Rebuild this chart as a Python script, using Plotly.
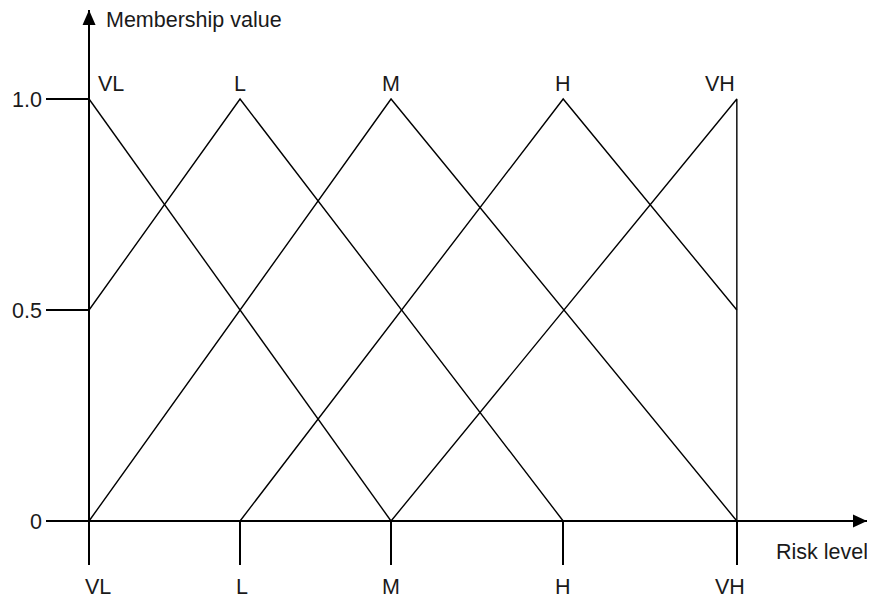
import plotly.graph_objects as go

# risk levels (categories) and where they sit on the risk axis
risk_labels = ["VL", "L", "M", "H", "VH"]
risk_pos = [0, 1, 2, 3.14, 4.29]
pos = dict(zip(risk_labels, risk_pos))

# membership functions: breakpoints (risk level) and membership values
vl_x = ["VL", "M"]
vl_y = [1.0, 0.0]
l_x = ["VL", "L", "H"]
l_y = [0.5, 1.0, 0.0]
m_x = ["VL", "M", "VH"]
m_y = [0.0, 1.0, 0.0]
h_x = ["L", "H", "VH"]
h_y = [0.0, 1.0, 0.5]
vh_x = ["M", "VH", "VH"]
vh_y = [0.0, 1.0, 0.0]

y_ticks = [0, 0.5, 1.0]
y_ticktext = ["0", "0.5", "1.0"]

FONT = "Liberation Sans, Arial, sans-serif"
TXT = "#1a1a1a"
FS = 21.5

# axis ranges chosen so the plot area runs from the left tick ends to the arrow tips
xr = [-0.285, 5.152]
yr = [-0.1043, 1.2109]
pxx = 151.0  # pixels per risk unit
pxy = 422.0  # pixels per membership unit

fig = go.Figure()
for xs, ys, nm in [(vl_x, vl_y, "VL"), (l_x, l_y, "L"), (m_x, m_y, "M"),
                   (h_x, h_y, "H"), (vh_x, vh_y, "VH")]:
    fig.add_trace(go.Scatter(x=[pos[k] for k in xs], y=ys, mode="lines", name=nm,
                             line=dict(color="black", width=1.4), cliponaxis=False,
                             hoverinfo="skip"))

# arrow heads
ax_tip = xr[1]
fig.add_shape(type="path", xref="x", yref="y", fillcolor="black", line=dict(width=0),
              path="M %f,0 L %f,%f L %f,%f Z" % (ax_tip, ax_tip - 14 / pxx, 6.5 / pxy,
                                                 ax_tip - 14 / pxx, -6.5 / pxy))
ay_tip = yr[1]
fig.add_shape(type="path", xref="x", yref="y", fillcolor="black", line=dict(width=0),
              path="M 0,%f L %f,%f L %f,%f Z" % (ay_tip, -6.5 / pxx, ay_tip - 15 / pxy,
                                                 6.5 / pxx, ay_tip - 15 / pxy))

# labels at the peaks
for lab in risk_labels:
    if lab == "VL":
        xa, xs = "left", 7
    elif lab == "VH":
        xa, xs = "right", 0
    else:
        xa, xs = "center", 0
    fig.add_annotation(x=pos[lab], y=1.0, text=lab, showarrow=False, xanchor=xa,
                       xshift=xs, yshift=15, font=dict(size=FS, color=TXT, family=FONT))

# labels under the risk axis
shift = {"VL": 9, "L": 2, "M": 0, "H": 0, "VH": -7}
for lab in risk_labels:
    fig.add_annotation(x=pos[lab], yref="paper", y=0, text=lab, showarrow=False,
                       xshift=shift[lab], yanchor="middle", yshift=-22,
                       font=dict(size=FS, color=TXT, family=FONT))

fig.add_annotation(x=15 / pxx, y=(521 - 20) / pxy, text="Membership value", showarrow=False,
                   xanchor="left", font=dict(size=FS, color=TXT, family=FONT))
fig.add_annotation(xref="paper", x=1, y=-0.0735, text="Risk level", showarrow=False,
                   xanchor="right", xshift=3, font=dict(size=FS, color=TXT, family=FONT))

fig.update_xaxes(range=xr, showgrid=False, showline=False, zeroline=True,
                 zerolinecolor="black", zerolinewidth=2,
                 tickvals=risk_pos, ticks="inside", ticklen=44, tickwidth=2,
                 tickcolor="black", showticklabels=False)
fig.update_yaxes(range=yr, showgrid=False, showline=False, zeroline=True,
                 zerolinecolor="black", zerolinewidth=2,
                 tickvals=y_ticks, ticktext=y_ticktext, ticks="inside", ticklen=43,
                 tickwidth=2, tickcolor="black", ticklabelstandoff=3,
                 tickfont=dict(size=FS, color=TXT, family=FONT))

# the page puts the figure 8px in from the top-left corner
fig.update_layout(width=867, height=590, showlegend=False,
                  margin=dict(l=38, r=8, t=2, b=33),
                  paper_bgcolor="white", plot_bgcolor="white")

fig.write_html("out.html")
